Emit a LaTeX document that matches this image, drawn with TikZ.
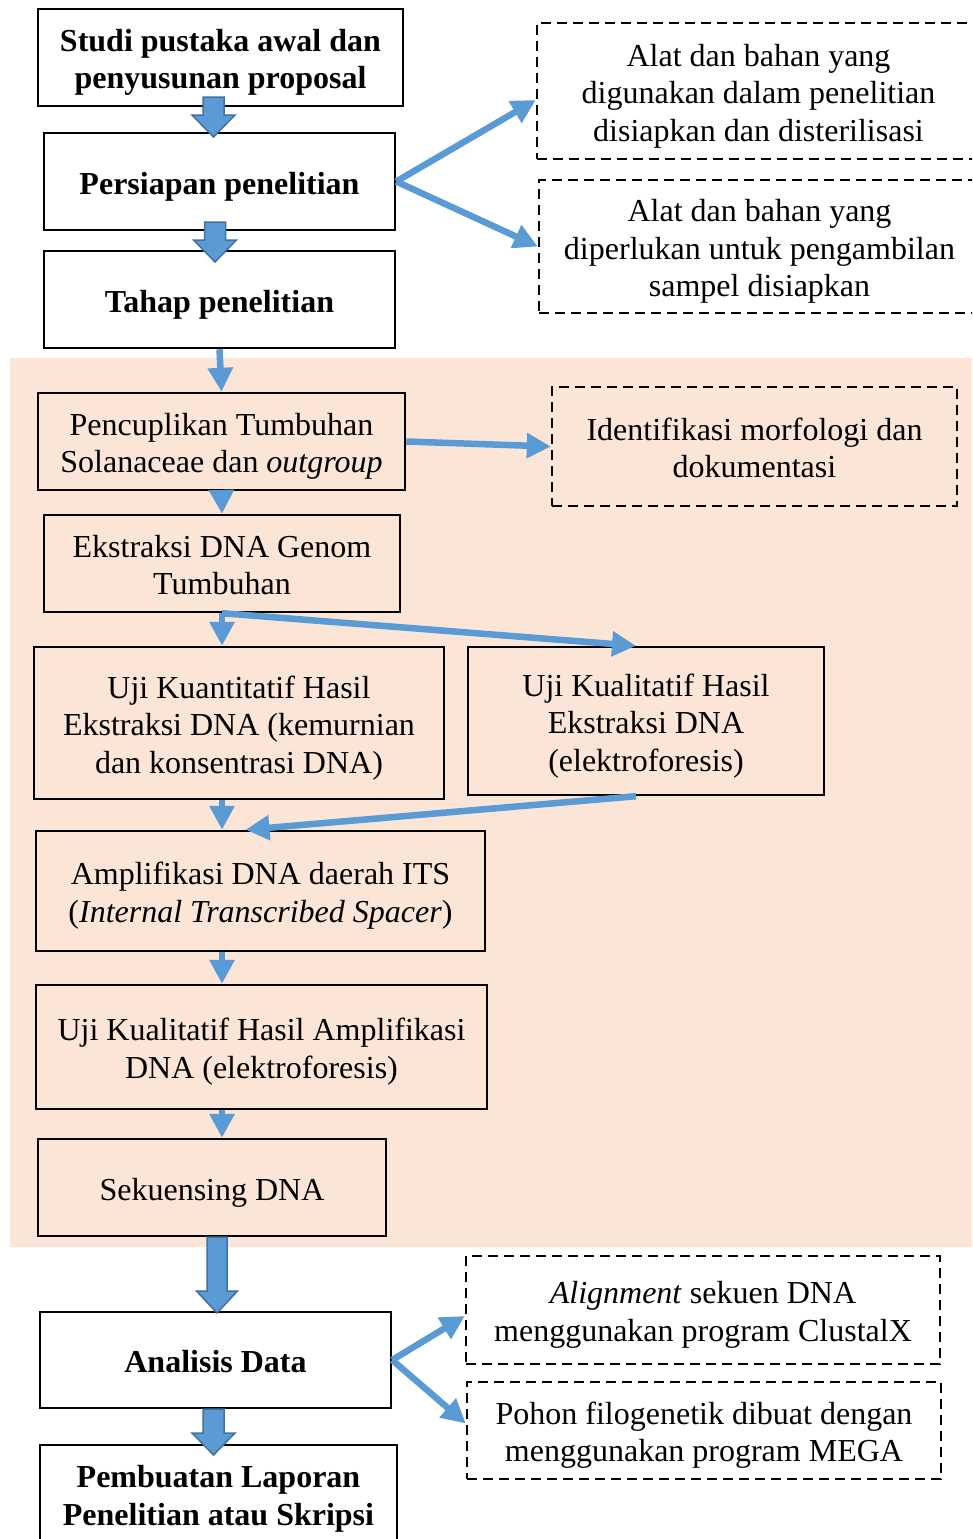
\documentclass[tikz,border=0pt]{standalone}
\usepackage{fontspec}
\setmainfont{Liberation Serif}
\usetikzlibrary{arrows.meta,calc}
\definecolor{peach}{HTML}{FBE5D6}
\definecolor{ablue}{HTML}{5B9BD5}
\definecolor{aedge}{HTML}{41719C}
\newcommand\tx[1]{\raisebox{-5pt}[\height][\depth]{\begin{tabular}{@{}c@{}}#1\end{tabular}}}
\tikzset{
 box/.style={draw, line width=2.4pt, inner sep=0pt, font=\fontsize{32}{37.5}\selectfont},
 dbox/.style={box, dash pattern=on 10pt off 6pt},
 bbox/.style={box, font=\fontsize{32}{37.5}\selectfont\bfseries},
 conn/.style={ablue, line width=6.5pt, -{Triangle[length=24pt,width=24pt]}},
 blockstyle/.style={fill=ablue, draw=aedge, line width=1.5pt, line join=miter}
}
\newcommand\blockarr[4]{%
 \filldraw[blockstyle] let \p1=(#1), \p2=(#2) in
 (\x1-#3pt,\y1) -- (\x1+#3pt,\y1) -- (\x1+#3pt,\y2+22pt) -- (\x1+#4pt,\y2+22pt)
 -- (\x2,\y2) -- (\x1-#4pt,\y2+22pt) -- (\x1-#3pt,\y2+22pt) -- cycle;}
\begin{document}
\begin{tikzpicture}[x=1pt,y=-1pt]
\useasboundingbox (0,0) rectangle (972,1539);
\clip (0,0) rectangle (972,1539);
\fill[peach] (10,358) rectangle (985,1247);

\node[bbox, minimum width=365pt, minimum height=97pt] (s1) at (220.5,57.5) {\tx{Studi pustaka awal dan\\penyusunan proposal}};
\node[bbox, minimum width=351pt, minimum height=97pt] (s2) at (219.5,181.5) {\tx{Persiapan penelitian}};
\node[bbox, minimum width=351pt, minimum height=97pt] (s3) at (219.5,299.5) {\tx{Tahap penelitian}};
\node[dbox, minimum width=443pt, minimum height=136pt] (dA) at (758.5,91) {\tx{Alat dan bahan yang\\digunakan dalam penelitian\\disiapkan dan disterilisasi}};
\node[dbox, minimum width=441pt, minimum height=133pt] (dB) at (759.5,246.5) {\tx{Alat dan bahan yang\\diperlukan untuk pengambilan\\sampel disiapkan}};

\node[box, minimum width=367pt, minimum height=97pt] (s4) at (221.5,441.5) {\tx{Pencuplikan Tumbuhan\\Solanaceae dan \textit{outgroup}}};
\node[dbox, minimum width=405pt, minimum height=119pt] (dC) at (754.5,446.5) {\tx{Identifikasi morfologi dan\\dokumentasi}};
\node[box, minimum width=356pt, minimum height=97pt] (s5) at (222,563.5) {\tx{Ekstraksi DNA Genom\\Tumbuhan}};
\node[box, minimum width=410pt, minimum height=152pt] (s6) at (239,723) {\tx{Uji Kuantitatif Hasil\\Ekstraksi DNA (kemurnian\\dan konsentrasi DNA)}};
\node[box, minimum width=356pt, minimum height=148pt] (s7) at (646,721) {\tx{Uji Kualitatif Hasil\\Ekstraksi DNA\\(elektroforesis)}};
\node[box, minimum width=449pt, minimum height=120pt] (s8) at (260.5,891) {\tx{Amplifikasi DNA daerah ITS\\(\textit{Internal Transcribed Spacer})}};
\node[box, minimum width=451pt, minimum height=124pt] (s9) at (261.5,1047) {\tx{Uji Kualitatif Hasil Amplifikasi\\DNA (elektroforesis)}};
\node[box, minimum width=348pt, minimum height=97pt] (s10) at (212,1187.5) {\tx{Sekuensing DNA}};

\node[bbox, minimum width=351pt, minimum height=96pt] (s11) at (215.5,1360) {\tx{Analisis Data}};
\node[bbox, minimum width=357pt, minimum height=98pt] (s12) at (218.5,1494) {\tx{Pembuatan Laporan\\Penelitian atau Skripsi}};
\node[dbox, minimum width=474pt, minimum height=108pt] (dD) at (703,1310) {\tx{\textit{Alignment} sekuen DNA\\menggunakan program ClustalX}};
\node[dbox, minimum width=474pt, minimum height=97pt] (dE) at (704,1430.5) {\tx{Pohon filogenetik dibuat dengan\\menggunakan program MEGA}};

% block arrows
\coordinate (b1s) at (213.5,97);   \coordinate (b1e) at (213.5,137);
\coordinate (b2s) at (215,222);    \coordinate (b2e) at (215,262);
\coordinate (b3s) at (217,1237);   \coordinate (b3e) at (217,1313);
\coordinate (b4s) at (213.5,1409); \coordinate (b4e) at (213.5,1455);
\blockarr{b1s}{b1e}{10.5}{21.5}
\blockarr{b2s}{b2e}{10.5}{21.5}
\blockarr{b3s}{b3e}{10}{20.5}
\blockarr{b4s}{b4e}{10.5}{21.5}

% thin arrows
\draw[conn] (s3.south) -- (s4.north);
\draw[conn] (s2.east) -- ($(dA.west)+(0,9)$);
\draw[conn] (s2.east) -- (dB.west);
\draw[conn] (s4.east) -- (dC.west);
\draw[conn] (s4.south) -- (s5.north);
\draw[conn] (s5.south) -- (s5.south |- s6.north);
\draw[conn] (s5.south) -- ($(s7.north)+(-10,0)$);
\draw[conn] (s5.south |- s6.south) -- (s5.south |- s8.north);
\draw[conn] ($(s7.south)+(-10,0)$) -- ($(s8.north)+(-15,0)$);
\draw[conn] (s5.south |- s8.south) -- (s5.south |- s9.north);
\draw[conn] (s5.south |- s9.south) -- (s5.south |- s10.north);
\draw[conn] (s11.east) -- ($(dD.west)+(0,6)$);
\draw[conn] (s11.east) -- ($(dE.west)+(0,-7)$);
\end{tikzpicture}
\end{document}
